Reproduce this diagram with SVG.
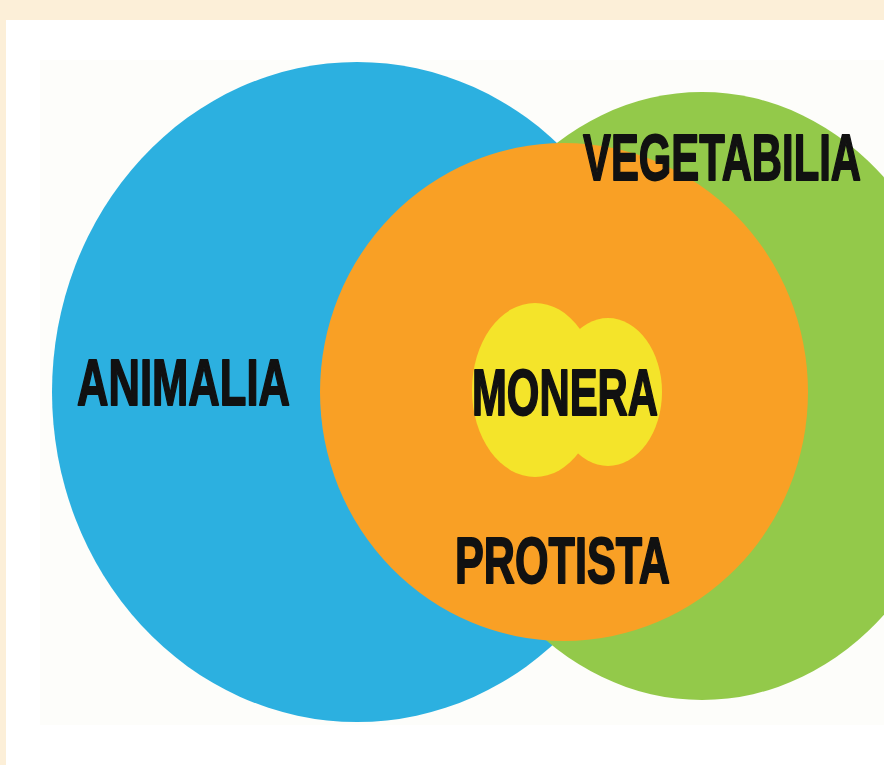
<svg xmlns="http://www.w3.org/2000/svg" width="884" height="765" viewBox="0 0 884 765">
  <style>
    .lbl { font-family: "Liberation Sans", "DejaVu Sans", Arial, sans-serif; font-weight: bold; font-size: 64px; fill: #111111; stroke: #111111; stroke-width: 1.8px; stroke-linejoin: round; }
  </style>
  <rect x="0" y="0" width="884" height="765" fill="#fcefd8"/>
  <rect x="6" y="20" width="878" height="745" fill="#ffffff"/>
  <rect x="40" y="60" width="844" height="665" fill="#fdfdfa"/>

  <g id="animalia">
    <ellipse cx="357" cy="392" rx="305" ry="330" fill="#2cb0e0"/>
    <text class="lbl" x="77" y="405" textLength="213" lengthAdjust="spacingAndGlyphs">ANIMALIA</text>
  </g>
  <g id="vegetabilia">
    <ellipse cx="702" cy="396" rx="262" ry="304" fill="#93c94a"/>
  </g>
  <g id="protista">
    <ellipse cx="564" cy="392" rx="244" ry="249" fill="#f9a025"/>
    <text class="lbl" x="455" y="583" textLength="215" lengthAdjust="spacingAndGlyphs">PROTISTA</text>
  </g>
  <g id="monera">
    <ellipse cx="535" cy="390" rx="63" ry="87" fill="#f4e42a"/>
    <ellipse cx="608" cy="392" rx="54" ry="74" fill="#f4e42a"/>
    <text class="lbl" x="472" y="415" textLength="186" lengthAdjust="spacingAndGlyphs">MONERA</text>
  </g>
  <g id="vegetabilia-label">
    <text class="lbl" x="583" y="180" textLength="278" lengthAdjust="spacingAndGlyphs">VEGETABILIA</text>
  </g>
  <g id="connectors"></g>
</svg>
